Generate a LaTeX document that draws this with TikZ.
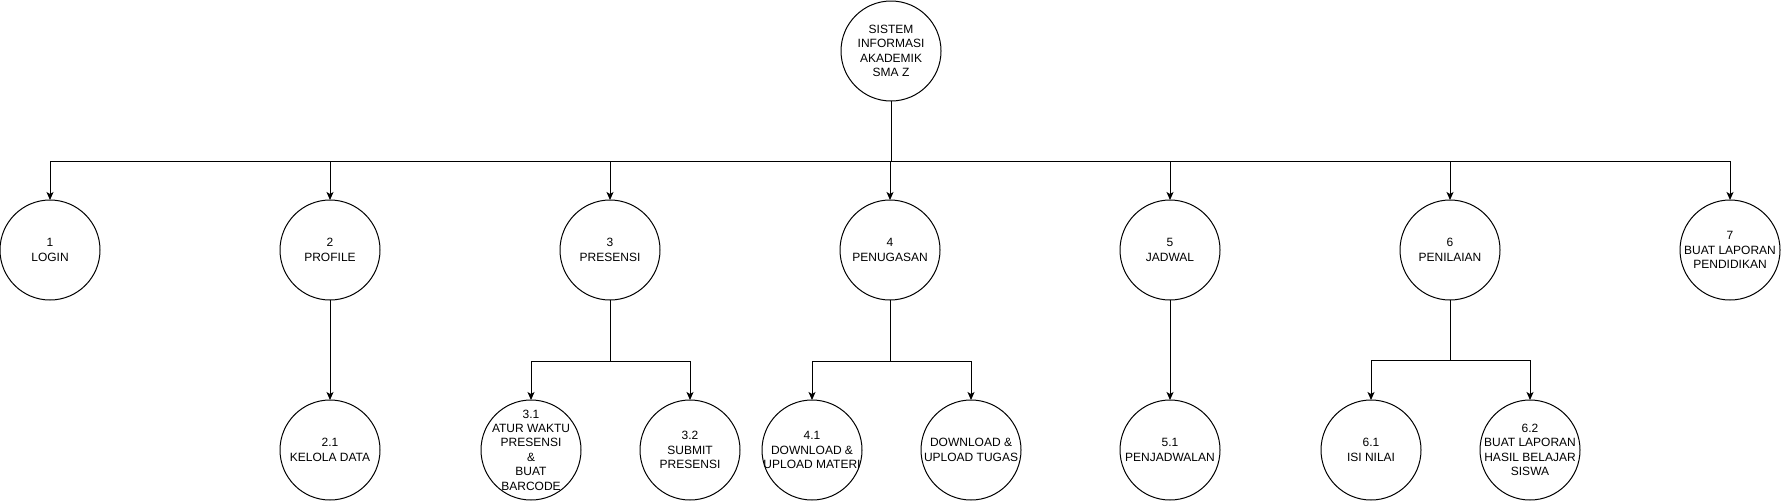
\documentclass[tikz,border=0pt]{standalone}
\usepackage{fontspec}
\setmainfont{Liberation Sans}
\usetikzlibrary{arrows.meta}
\begin{document}
\begin{tikzpicture}[x=1pt,y=-1pt,
  proc/.style={circle,draw,line width=1pt,minimum size=100pt,inner sep=0pt,outer sep=0pt},
  txt/.style={align=center,font=\fontsize{12}{14.4}\selectfont,inner sep=0pt},
  arr/.style={-{Stealth[length=8pt,width=7pt,inset=2pt]},line width=1pt},
  ln/.style={line width=1pt}]
\useasboundingbox (0,0) rectangle (1782,501);
% nodes
\node[proc] (top) at (891,51) {};
\node[proc] (c1) at (50,250) {};
\node[proc] (c2) at (330,250) {};
\node[proc] (c3) at (610,250) {};
\node[proc] (c4) at (890,250) {};
\node[proc] (c5) at (1170,250) {};
\node[proc] (c6) at (1450,250) {};
\node[proc] (c7) at (1730,250) {};
\node[proc] (c21) at (330,450) {};
\node[proc] (c31) at (531,450) {};
\node[proc] (c32) at (690,450) {};
\node[proc] (c41) at (812,450) {};
\node[proc] (c42) at (971,450) {};
\node[proc] (c51) at (1170,450) {};
\node[proc] (c61) at (1371,450) {};
\node[proc] (c62) at (1530,450) {};
% texts
\node[txt] (ttop) at (top) {SISTEM\\INFORMASI\\AKADEMIK\\SMA Z};
\node[txt] (t1) at (c1) {1\\LOGIN};
\node[txt] (t2) at (c2) {2\\PROFILE};
\node[txt] (t3) at (c3) {3\\PRESENSI};
\node[txt] (t4) at (c4) {4\\PENUGASAN};
\node[txt] (t5) at (c5) {5\\JADWAL};
\node[txt] (t6) at (c6) {6\\PENILAIAN};
\node[txt] (t7) at (c7) {7\\BUAT LAPORAN\\PENDIDIKAN};
\node[txt] (t21) at (c21) {2.1\\KELOLA DATA};
\node[txt] (t31) at (c31) {3.1\\ATUR WAKTU\\PRESENSI\\\&\\BUAT\\BARCODE};
\node[txt] (t32) at (c32) {3.2\\SUBMIT\\PRESENSI};
\node[txt] (t41) at (c41) {4.1\\DOWNLOAD \&\\UPLOAD MATERI};
\node[txt] (t42) at (c42) {DOWNLOAD \&\\UPLOAD TUGAS};
\node[txt] (t51) at (c51) {5.1\\PENJADWALAN};
\node[txt] (t61) at (c61) {6.1\\ISI NILAI};
\node[txt] (t62) at (c62) {6.2\\BUAT LAPORAN\\HASIL BELAJAR\\SISWA};
% connectors level 1
\coordinate (bus) at (891,161);
\draw[ln] (top.south) -- (bus);
\foreach \c in {c1,c2,c3,c5,c6,c7} \draw[arr] (bus) -| (\c.north);
\draw[arr] (bus) -| (c4.north);
% level 2
\draw[arr] (c2.south) -- (c21.north);
\draw[arr] (c5.south) -- (c51.north);
\coordinate (b3) at (610,361);
\draw[ln] (c3.south) -- (b3);
\draw[arr] (b3) -| (c31.north);
\draw[arr] (b3) -| (c32.north);
\coordinate (b4) at (890,361);
\draw[ln] (c4.south) -- (b4);
\draw[arr] (b4) -| (c41.north);
\draw[arr] (b4) -| (c42.north);
\coordinate (b6) at (1450,360);
\draw[ln] (c6.south) -- (b6);
\draw[arr] (b6) -| (c61.north);
\draw[arr] (b6) -| (c62.north);
\end{tikzpicture}
\end{document}
